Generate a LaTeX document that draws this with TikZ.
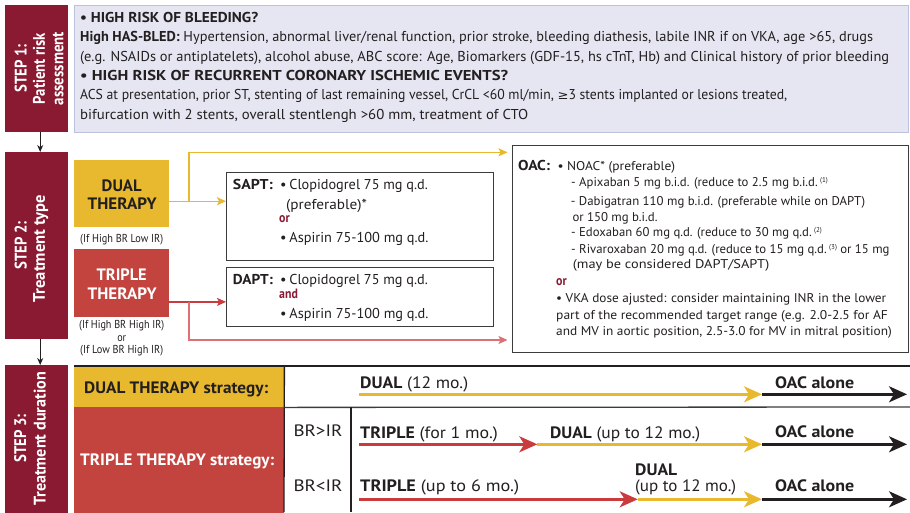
\documentclass[tikz,border=0pt]{standalone}
\usepackage{fontspec}
\usepackage{graphicx}
\setmainfont{PT Sans}[FakeStretch=0.88]
\newfontfamily\symfont{DejaVu Sans}
\usetikzlibrary{arrows.meta}

\definecolor{stepred}{HTML}{8A1A32}
\definecolor{dualyel}{HTML}{E8B92F}
\definecolor{tripred}{HTML}{C3443F}
\definecolor{arrred}{HTML}{CB3A3C}
\definecolor{palered}{HTML}{DC7074}
\definecolor{lavfill}{HTML}{E5E6F2}
\definecolor{lavline}{HTML}{BCC1DE}
\definecolor{ink}{HTML}{231F20}
\definecolor{rulegray}{HTML}{3C3C3C}

\newcommand\fs[1]{\fontsize{#1}{#1}\selectfont}
\newcommand\fitto[2]{\resizebox{#1pt}{\height}{#2}}
\newcommand\gesym{{\symfont\fontsize{12}{12}\selectfont ≥}}
\newcommand\sref[1]{\raisebox{4pt}{\fs{7}(#1)}}

\tikzset{
  stepbox/.style={fill=stepred, anchor=north west, inner sep=0pt},
  steptxt/.style={text=white, font=\bfseries\fs{16.8}, rotate=90, anchor=base, inner sep=0pt},
  tx/.style={anchor=base west, inner sep=0pt, text=ink},
  ctx/.style={anchor=base, inner sep=0pt, text=ink},
  riskfont/.style={font=\fs{14.3}},
  oacfont/.style={font=\fs{12.7}},
  bigfont/.style={font=\fs{16.5}},
  smallfont/.style={font=\fs{11.5}},
  conj/.style={anchor=base west, inner sep=0pt, text=stepred, font=\bfseries\fs{13.5}},
  panel/.style={draw=rulegray, line width=1.2pt, fill=white, anchor=north west, inner sep=0pt},
  cell/.style={anchor=north west, inner sep=0pt},
  steparrow/.style={draw=ink, line width=0.9pt, -{Stealth[length=7pt,width=6pt]}},
  yarr/.style={draw=dualyel, line width=1.3pt, -{Stealth[length=9pt,width=8pt,inset=2pt]}},
  rarr/.style={draw=arrred, line width=1.3pt, -{Stealth[length=9pt,width=8pt,inset=2pt]}},
  parr/.style={draw=palered, line width=1.3pt, -{Stealth[length=9pt,width=8pt,inset=2pt]}},
  tline/.style={line width=2.5pt, -{Stealth[length=18pt,width=16pt,inset=5pt]}},
  grid/.style={line width=1.3pt},
}

\begin{document}
\begin{tikzpicture}[x=1pt,y=-1pt]
\useasboundingbox[fill=white] (0,0) rectangle (910,512);

% ---------- step labels ----------
\node[stepbox, minimum width=63pt, minimum height=127pt] (s1) at (5,5) {};
\node[stepbox, minimum width=63pt, minimum height=187pt] (s2) at (5,152) {};
\node[stepbox, minimum width=63pt, minimum height=150pt] (s3) at (5,365) {};

\node[steptxt] (s1a) at (26.5,68.5) {STEP 1:};
\node[steptxt] (s1b) at (45,68.5) {\fitto{71}{Patient risk}};
\node[steptxt] (s1c) at (63.3,68.5) {\fitto{73}{assessment}};
\node[steptxt] (s2a) at (26.7,245.5) {STEP 2:};
\node[steptxt] (s2b) at (45,248.5) {\fitto{107}{Treatment type}};
\node[steptxt] (s3a) at (26,438.5) {STEP 3:};
\node[steptxt] (s3b) at (45.5,438.5) {\fitto{133}{Treatment duration}};

\draw[steparrow] ([xshift=3.5pt]s1.south) -- ([xshift=3.5pt]s2.north);
\draw[steparrow] ([xshift=3.5pt]s2.south) -- ([xshift=3.5pt]s3.north);

% ---------- step 1: risk assessment ----------
\node[draw=lavline, fill=lavfill, line width=1pt, anchor=north west,
      minimum width=834pt, minimum height=126.5pt, inner sep=0pt] (risk) at (73.5,5) {};
\node[tx, riskfont] (r1) at (80,22.5) {\fitto{178}{\bfseries\textbullet\ HIGH RISK OF BLEEDING?}};
\node[tx, riskfont] (r2) at (80,41.5) {\fitto{793}{\textbf{High HAS-BLED:} Hypertension, abnormal liver/renal function, prior stroke, bleeding diathesis, labile INR if on VKA, age >65, drugs}};
\node[tx, riskfont] (r3) at (80,61) {\fitto{809}{(e.g. NSAIDs or antiplatelets), alcohol abuse, ABC score: Age, Biomarkers (GDF-15, hs cTnT, Hb) and Clinical history of prior bleeding}};
\node[tx, riskfont] (r4) at (80,80) {\fitto{428}{\bfseries\textbullet\ HIGH RISK OF RECURRENT CORONARY ISCHEMIC EVENTS?}};
\node[tx, riskfont] (r5) at (80,99.5) {\fitto{707}{ACS at presentation, prior ST, stenting of last remaining vessel, CrCL <60 ml/min, \gesym3 stents implanted or lesions treated,}};
\node[tx, riskfont] (r6) at (80,119) {\fitto{448}{bifurcation with 2 stents, overall stentlengh >60 mm, treatment of CTO}};

% ---------- step 2: treatment type ----------
\node[cell, fill=dualyel, minimum width=95pt, minimum height=67pt] (dual) at (74,160) {};
\node[cell, fill=tripred, minimum width=95pt, minimum height=68pt] (triple) at (74,249) {};
\node[ctx, font=\bfseries\fs{16.5}] (dual1) at (121.7,191) {\fitto{40}{DUAL}};
\node[ctx, font=\bfseries\fs{16.5}] (dual2) at (122.2,209.3) {\fitto{69}{THERAPY}};
\node[ctx, font=\bfseries\fs{16.5}, text=white] (trip1) at (121.7,280) {\fitto{50}{TRIPLE}};
\node[ctx, font=\bfseries\fs{16.5}, text=white] (trip2) at (122.2,299) {\fitto{69}{THERAPY}};
\node[ctx, smallfont] (dualif) at (121.7,242.5) {\fitto{83}{(If High BR Low IR)}};
\node[ctx, smallfont] (tripif1) at (121.7,328) {\fitto{85}{(If High BR High IR)}};
\node[ctx, smallfont] (tripor) at (121.7,341) {or};
\node[ctx, smallfont] (tripif2) at (121.7,353.5) {\fitto{83}{(If Low BR High IR)}};

\node[panel, minimum width=267pt, minimum height=88pt] (sapt) at (226,172) {};
\node[panel, minimum width=267pt, minimum height=59pt] (dapt) at (226,267) {};
\node[panel, minimum width=396pt, minimum height=207pt] (oac) at (512,145) {};

\node[tx, riskfont] (sa1) at (232.7,189.3) {\fitto{40}{\bfseries SAPT:}};
\node[tx, riskfont] (sa2) at (280,189.3) {\fitto{147.7}{\textbullet\,Clopidogrel 75 mg q.d.}};
\node[tx, riskfont] (sa3) at (286,209) {\fitto{80.7}{(preferable)*}};
\node[conj] (sa4) at (279,222.3) {or};
\node[tx, riskfont] (sa5) at (280,242.7) {\fitto{148.3}{\textbullet\,Aspirin 75-100 mg q.d.}};

\node[tx, riskfont] (da1) at (232.7,284) {\fitto{40}{\bfseries DAPT:}};
\node[tx, riskfont] (da2) at (280,284) {\fitto{147.7}{\textbullet\,Clopidogrel 75 mg q.d.}};
\node[conj] (da3) at (279,298.3) {\fitto{18.7}{and}};
\node[tx, riskfont] (da4) at (280,318.3) {\fitto{148.3}{\textbullet\,Aspirin 75-100 mg q.d.}};

\node[tx, riskfont] (o1) at (518,170.7) {\fitto{32}{\bfseries OAC:}};
\node[tx, oacfont] (o2) at (557.3,170.7) {\fitto{117.7}{\textbullet\ NOAC* (preferable)}};
\node[tx, oacfont] (o3) at (571,186.7) {\fitto{256.7}{- Apixaban 5 mg b.i.d. (reduce to 2.5 mg b.i.d.\,\sref{1}}};
\node[tx, oacfont] (o4) at (570.7,205) {\fitto{294.3}{- Dabigatran 110 mg b.i.d. (preferable while on DAPT)}};
\node[tx, oacfont] (o5) at (572.3,221) {\fitto{85}{or 150 mg b.i.d.}};
\node[tx, oacfont] (o6) at (571,236.7) {\fitto{250.7}{- Edoxaban 60 mg q.d. (reduce to 30 mg q.d.\,\sref{2}}};
\node[tx, oacfont] (o7) at (571,253.3) {\fitto{318.3}{- Rivaroxaban 20 mg q.d. (reduce to 15 mg q.d.\,\sref{3} or 15 mg}};
\node[tx, oacfont] (o8) at (572.7,268.3) {\fitto{196.6}{(may be considered DAPT/SAPT)}};
\node[conj] (o9) at (556,285) {or};
\node[tx, oacfont] (o10) at (556,302.3) {\fitto{330}{\textbullet\ VKA dose ajusted: consider maintaining INR in the lower}};
\node[tx, oacfont] (o11) at (556,319) {\fitto{331.7}{part of the recommended target range (e.g. 2.0-2.5 for AF}};
\node[tx, oacfont] (o12) at (556,335.7) {\fitto{335.7}{and MV in aortic position, 2.5-3.0 for MV in mitral position)}};

% arrows from therapy boxes
\coordinate (yj) at (189,152.3);
\coordinate (rj) at (189,340);
\draw[yarr] ([yshift=-7.5pt]dual.east) coordinate (d0) -- (d0 -| sapt.west);
\draw[yarr, shorten >=4.5pt] (d0 -| yj) -- (yj) -- (yj -| oac.west);
\draw[rarr] ([yshift=-18.7pt]triple.east) coordinate (t0) -- (t0 -| dapt.west);
\draw[parr, shorten >=4.5pt] (t0 -| rj) -- (rj) -- (rj -| oac.west);

% ---------- step 3: treatment duration ----------
\node[cell, fill=dualyel, minimum width=210pt, minimum height=41pt] (dcell) at (74,366) {};
\node[cell, fill=tripred, minimum width=210pt, minimum height=110pt] (tcell) at (74,407) {};
\draw[grid, draw=ink] (dcell.north west) -- (910,366);
\draw[grid, draw=ink] (dcell.north east) -- (284,512);
\draw[grid, draw=rulegray] (dcell.south east) -- (910,407);
\draw[grid, draw=ink] (351,407) -- (351,512);

\node[tx, bigfont] (dstrat) at (84,393.3) {\fitto{184}{\bfseries DUAL THERAPY strategy:}};
\node[tx, bigfont, text=white] (tstrat) at (80,465) {\fitto{194}{\bfseries TRIPLE THERAPY strategy:}};
\node[tx, bigfont] (brgt) at (293.3,436.7) {\fitto{49}{BR>IR}};
\node[tx, bigfont] (brlt) at (293.3,491.7) {\fitto{49}{BR<IR}};

% timelines
\coordinate (a0) at (359,394.3);
\coordinate (a1) at (762,394.3);
\coordinate (a2) at (907,394.3);
\coordinate (b0) at (359,444.3);
\coordinate (b1) at (537.3,444.3);
\coordinate (b2) at (762,444.3);
\coordinate (b3) at (907,444.3);
\coordinate (c0) at (359,499.3);
\coordinate (c1) at (637.7,499.3);
\coordinate (c2) at (762,499.3);
\coordinate (c3) at (907,499.3);

\draw[tline, draw=ink, fill=ink] (a1) -- (a2);
\draw[tline, draw=dualyel, fill=dualyel] (a0) -- (a1);
\draw[tline, draw=ink, fill=ink] (b2) -- (b3);
\draw[tline, draw=dualyel, fill=dualyel] (b1) -- (b2);
\draw[tline, draw=arrred, fill=arrred] (b0) -- (b1);
\draw[tline, draw=ink, fill=ink] (c2) -- (c3);
\draw[tline, draw=dualyel, fill=dualyel] (c1) -- (c2);
\draw[tline, draw=arrred, fill=arrred] (c0) -- (c1);

\node[tx, bigfont] (l1) at (360,388.3) {\fitto{108}{\textbf{DUAL} (12 mo.)}};
\node[tx, bigfont] (l2) at (775,388) {\fitto{79}{\bfseries OAC alone}};
\node[tx, bigfont] (l3) at (360,438.3) {\fitto{137.7}{\textbf{TRIPLE} (for 1 mo.)}};
\node[tx, bigfont] (l4) at (550,438.3) {\fitto{150}{\textbf{DUAL} (up to 12 mo.)}};
\node[tx, bigfont] (l5) at (775,437.7) {\fitto{79}{\bfseries OAC alone}};
\node[tx, bigfont] (l6) at (360,491.7) {\fitto{159}{\textbf{TRIPLE} (up to 6 mo.)}};
\node[tx, bigfont] (l7) at (635,475) {\fitto{42}{\bfseries DUAL}};
\node[tx, bigfont] (l8) at (635,491.7) {\fitto{101}{(up to 12 mo.)}};
\node[tx, bigfont] (l9) at (775,491.7) {\fitto{79}{\bfseries OAC alone}};
\end{tikzpicture}
\end{document}
